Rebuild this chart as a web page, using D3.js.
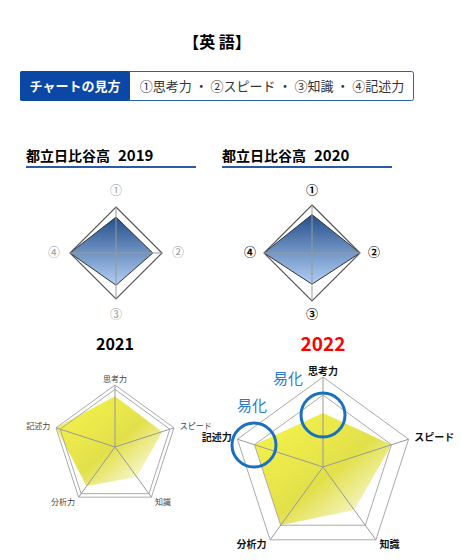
<!DOCTYPE html><html><head><meta charset="utf-8"><script src="https://cdn.jsdelivr.net/npm/d3@7"></script>
<style>body{margin:0;background:#fff;font-family:"Noto Sans CJK JP",sans-serif}</style></head><body><svg id="c" width="462" height="560"></svg>
<script>
const axes4=["①","②","③","④"];
const v2019=[0.78,0.8,0.7,1.0];
const v2020=[0.8,1.0,0.65,1.0];
const axes5=["思考力","スピード","知識","分析力","記述力"];
const v2021=[0.82,0.8,0.6,0.78,1.0];
const v2022=[0.6,0.8,0.59,0.8,0.8];
const legendItems=["①思考力","②スピード","③知識","④記述力"];

const svg=d3.select("#c");
const defs=svg.append("defs");
const gb=defs.append("linearGradient").attr("id","gb").attr("x1",0).attr("y1",0).attr("x2",0).attr("y2",1);
gb.append("stop").attr("offset","0").attr("stop-color","#244f8c");
gb.append("stop").attr("offset","1").attr("stop-color","#b3d0f5");
const gy=defs.append("linearGradient").attr("id","gy").attr("x1",0.2).attr("y1",0.2).attr("x2",0.9).attr("y2",0.9);
gy.append("stop").attr("offset","0").attr("stop-color","#f0ee4a");
gy.append("stop").attr("offset","0.5").attr("stop-color","#e2e04a");
gy.append("stop").attr("offset","1").attr("stop-color","#fbfbe8");

svg.append("text").attr("x",217).attr("y",48).attr("text-anchor","middle").attr("font-size",16).attr("font-weight","bold").text("【英 語】");
svg.append("rect").attr("x",20.5).attr("y",71.5).attr("width",393).attr("height",29).attr("fill","#fff").attr("stroke","#2a5fb0").attr("rx",2);
svg.append("rect").attr("x",20).attr("y",71).attr("width",110).attr("height",30).attr("fill","#0b47a5").attr("rx",2);
svg.append("text").attr("x",75).attr("y",91).attr("text-anchor","middle").attr("fill","#fff").attr("font-size",13).attr("font-weight","bold").text("チャートの見方");
svg.append("text").attr("x",272).attr("y",91).attr("text-anchor","middle").attr("fill","#333").attr("font-size",13).text(legendItems.join(" ・ "));

function title(x,yr){
  const t=svg.append("text").attr("x",x).attr("y",161).attr("font-weight","bold");
  t.append("tspan").attr("font-size",14).text("都立日比谷高");
  t.append("tspan").attr("font-size",15).attr("dx",8).text(yr);
  svg.append("line").attr("x1",x).attr("x2",x+170).attr("y1",167).attr("y2",167).attr("stroke","#2a5aa8").attr("stroke-width",2);
}
title(26,"2019");title(222,"2020");

function radar(cx,cy,R,labels,vals,rings,fill,opt){
  const n=labels.length;
  const ang=d3.scaleLinear().domain([0,n]).range([0,2*Math.PI]);
  const r=d3.scaleLinear().domain([0,1]).range([0,R]);
  const line=d3.lineRadial().angle((d,i)=>ang(i)).radius(d=>r(d)).curve(d3.curveLinearClosed);
  const g=svg.append("g").attr("transform",`translate(${cx},${cy})`);
  g.append("path").attr("d",line(vals)).attr("fill",fill).attr("stroke",opt.stroke||"none");
  rings.forEach(k=>g.append("path").attr("d",line(labels.map(()=>k))).attr("fill","none").attr("stroke",opt.ring).attr("stroke-width",opt.rw));
  labels.forEach((l,i)=>{const a=ang(i);
    g.append("line").attr("x1",0).attr("y1",0).attr("x2",R*Math.sin(a)).attr("y2",-R*Math.cos(a)).attr("stroke","#999").attr("stroke-width",1);});
  labels.forEach((l,i)=>{const a=ang(i),lr=R+opt.lo;
    let x=lr*Math.sin(a),y=-lr*Math.cos(a);
    let anchor=Math.abs(x)<2?"middle":(x>0?"start":"end");
    if(opt.center) anchor="middle";
    g.append("text").attr("x",x).attr("y",y+opt.fs*0.35).attr("text-anchor",anchor).attr("font-size",opt.fs).attr("font-weight",opt.bold?"bold":"normal").attr("fill",opt.lc).text(l);});
  return g;
}
radar(116,253,46,axes4,v2019,[1],"url(#gb)",{ring:"#555",rw:1.2,lo:16,fs:12,lc:"#999",center:true,stroke:"#333"});
radar(312,253,48,axes4,v2020,[1],"url(#gb)",{ring:"#555",rw:1.2,lo:14,fs:12,lc:"#000",bold:true,center:true,stroke:"#333"});

svg.append("text").attr("x",115).attr("y",350).attr("text-anchor","middle").attr("font-size",16).attr("font-weight","bold").text("2021");
svg.append("text").attr("x",323).attr("y",351).attr("text-anchor","middle").attr("font-size",19).attr("font-weight","bold").attr("fill","#f00").text("2022");

radar(115,447,62,axes5,v2021,[0.93,1],"url(#gy)",{ring:"#aaa",rw:1,lo:6,fs:8,lc:"#444"});
radar(323,467,90,axes5,v2022,[0.8,1],"url(#gy)",{ring:"#aaa",rw:1,lo:6,fs:10,lc:"#111",bold:true});

[[323,415],[254,445]].forEach(c=>svg.append("circle").attr("cx",c[0]).attr("cy",c[1]).attr("r",22).attr("fill","none").attr("stroke","#1a6fc0").attr("stroke-width",3));
[[288,384],[252,411]].forEach(p=>svg.append("text").attr("x",p[0]).attr("y",p[1]).attr("text-anchor","middle").attr("font-size",15).attr("fill","#2a7ac8").text("易化"));
</script></body></html>
